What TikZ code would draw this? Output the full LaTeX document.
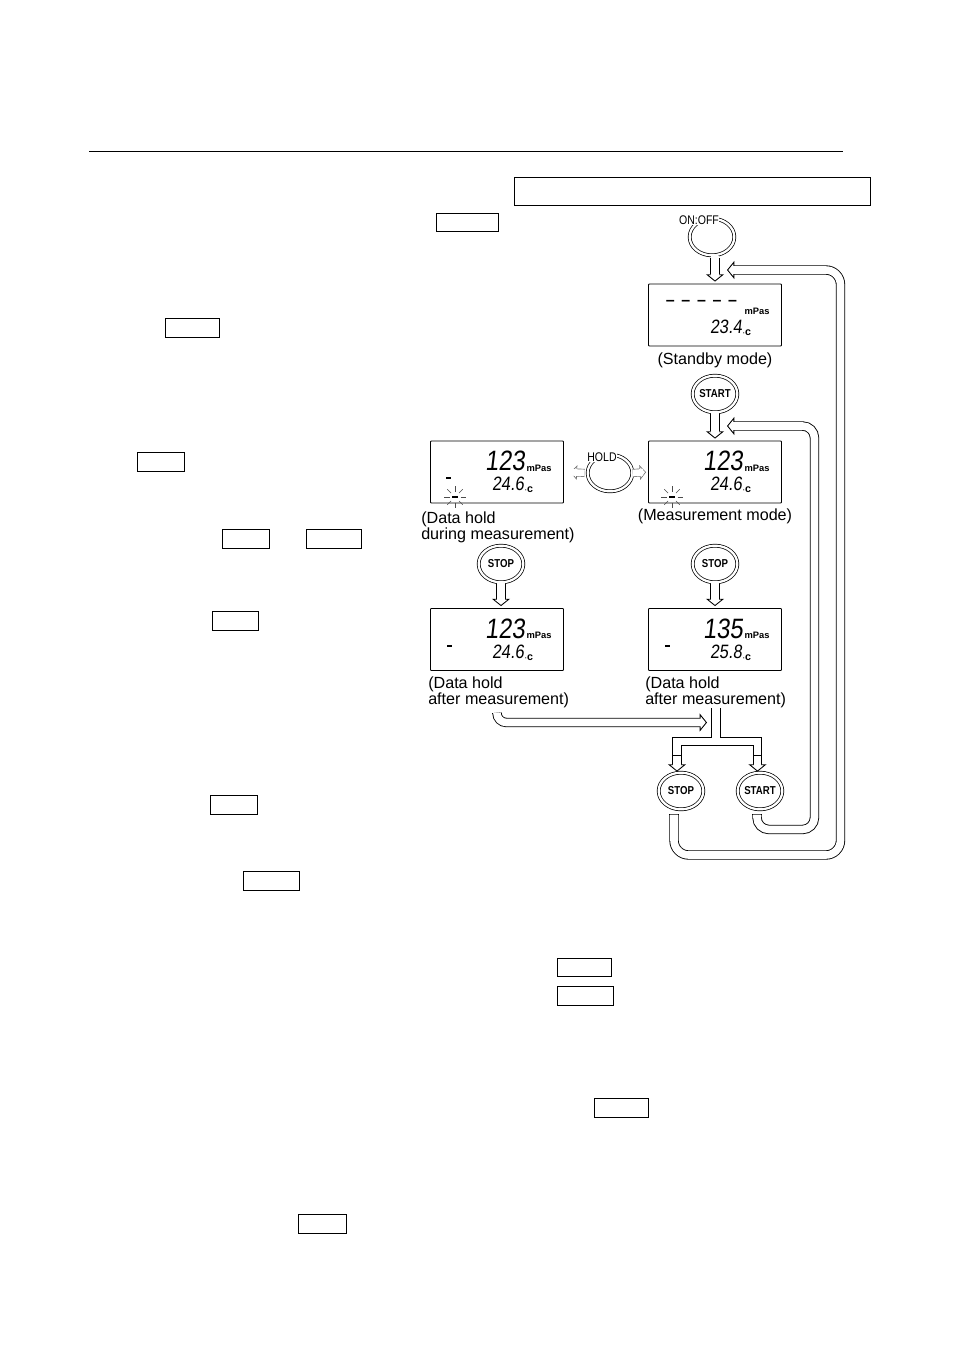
\documentclass[tikz,border=0pt]{standalone}
\usepackage{fontspec}
\setmainfont{Liberation Sans}
\newfontfamily\lcdfont[FakeSlant=.12,FakeStretch=.85]{Liberation Sans}
\newfontfamily\tallfont[FakeStretch=.84]{Liberation Sans}
\usetikzlibrary{calc, arrows.meta, shapes.geometric}
\def\nudge{.65pt}
\tikzset{rule/.style={line width=.7pt}}
\tikzset{keybox/.style={draw, line width=.6pt, inner sep=0pt}}
\tikzset{lcd/.style={draw, line width=.6pt, rounded corners=.6pt, minimum width=99.8pt, minimum height=46.5pt, inner sep=0pt}}
\tikzset{btn/.style={ellipse, draw, double, double distance=1.7pt, line width=.55pt, minimum width=33.5pt, minimum height=27.5pt, inner sep=0pt, font=\fontsize{8.6}{9}\selectfont\tallfont\bfseries}}
\tikzset{ringname/.style={fill=white, inner sep=.4pt, font=\fontsize{9.4}{9}\selectfont\tallfont}}
\tikzset{caption/.style={inner sep=0pt, align=left, font=\fontsize{12.1}{12}\selectfont}}
\tikzset{bigread/.style={inner sep=0pt, font=\fontsize{21}{21}\selectfont\lcdfont}}
\tikzset{tempread/.style={inner sep=0pt, font=\fontsize{14.5}{15}\selectfont\lcdfont}}
\tikzset{unitname/.style={inner sep=0pt, font=\fontsize{7}{7}\selectfont\bfseries}}
\tikzset{flow/.style={line width=7pt, postaction={draw=white, -, line width=7pt-2*\nudge, shorten >=#1, shorten <=.5pt}}, flow/.default=4.6pt}
\tikzset{flowboth/.style={flow, {Bar[width=7pt, line width=\nudge]}-{Triangle[fill=white, length=5.5pt, width=13.5pt, line width=\nudge]}}}
\tikzset{flowhead/.style={flow, -{Triangle[fill=white, length=5.5pt, width=13.5pt, line width=\nudge]}}}
\tikzset{flowtail/.style={flow=0pt, {Bar[width=7pt, line width=\nudge]}-}}
\tikzset{holdflow/.style={draw=black!55, line width=6pt, postaction={draw=white, -, line width=6pt-1pt, shorten >=3.8pt}, -{Triangle[fill=white, length=4.8pt, width=11pt, line width=.5pt]}}}
\begin{document}
\begin{tikzpicture}[x=.75pt, y=-.75pt]
  \useasboundingbox (0,0) rectangle (954,1350);
  \draw[rule] (89,151) -- (843,151);
  % Key frames in the running text
  \foreach \keyname/\keypos/\keyw/\keyh in {
    keytitle/{(692.5,191.5)}/357/29,
    keyonoff/{(467.5,222.5)}/63/19,
    keya/{(192.5,328)}/55/20,
    keyb/{(161,462)}/48/20,
    keyc/{(246,539)}/48/20,
    keyd/{(334,539)}/56/20,
    keye/{(235.5,621)}/47/20,
    keyf/{(234,805)}/48/20,
    keyg/{(271.5,881)}/57/20,
    keyh/{(584.5,967.5)}/55/19,
    keyi/{(585.5,996)}/57/20,
    keyj/{(621.5,1108)}/55/20,
    keyk/{(322.5,1224)}/49/20%
  } {
    \node[keybox, minimum width=\keyw*.75pt-.6pt, minimum height=\keyh*.75pt-.6pt] (\keyname) at \keypos {};
  }
  % Displays
  \foreach \lcdname/\lcdpos/\reading/\temp in {
    standby/{(715,315)}/{}/23.4,
    measure/{(715,472)}/123/24.6,
    holddur/{(497,472)}/123/24.6,
    holdaft/{(497,639.5)}/123/24.6,
    holdend/{(715,639.5)}/135/25.8%
  } {
    \node[lcd] (\lcdname) at \lcdpos {};
    \node[bigread] (\lcdname big) at ($(\lcdname.center)+(8,-11)$) {\reading};
    \node[tempread] (\lcdname temp) at ($(\lcdname.center)+(11,12)$) {\temp};
    \node[unitname] (\lcdname unit) at ($(\lcdname.center)+(42,-4)$) {mPas};
    \node[unitname, font=\fontsize{8}{8}\selectfont\bfseries] (\lcdname deg) at ($(\lcdname.center)+(32,18)$) {{\fontsize{5}{5}\selectfont ·}c};
  }
  \node[inner sep=0pt, font=\fontsize{12}{12}\selectfont\bfseries] (standbydash) at (701.5,303) {–\hspace{5pt}–\hspace{5pt}–\hspace{5pt}–\hspace{5pt}–};
  % Hold marks
  \foreach \mark in {(448,478),(449,646),(667,646)} {
    \fill \mark ++(-2.5,-.8) rectangle ++(5,1.6);
  }
  \foreach \blink in {(672,497),(455,497)} {
    \fill \blink ++(-3,-.8) rectangle ++(6,1.6);
    \foreach \ang in {0,45,90,135,180,225,270,315} {
      \draw[black!70, line width=.3pt] \blink ++(\ang:5.5) -- ++(\ang:5.5);
    }
  }
  % Captions
  \node[caption] (standbycap) at (715,360) {(Standby mode)};
  \node[caption] (measurecap) at (715,516) {(Measurement mode)};
  \node[caption, anchor=west] (holddurcap) at (421,527) {(Data hold\\during measurement)};
  \node[caption, anchor=west] (holdaftcap) at (428,692) {(Data hold\\after measurement)};
  \node[caption, anchor=west] (holdendcap) at (645,692) {(Data hold\\after measurement)};
  % Buttons
  \node[btn] (onoff) at (712,237) {};
  \node[ringname] (onoffname) at (699,220) {ON:OFF};
  \node[btn] (hold) at (610,473) {};
  \node[ringname] (holdname) at (602,457) {HOLD};
  \node[btn] (start) at (715,394) {START};
  \node[btn] (stopdur) at (501,564) {STOP};
  \node[btn] (stopmeas) at (715,564) {STOP};
  \node[btn] (stopend) at (681,791) {STOP};
  \node[btn] (startend) at (760,791) {START};
  % Straight arrows
  \draw[flowboth, shorten >=1.5pt, shorten <=2pt] (onoff.south -| standby.north) -- (standby.north);
  \draw[flowboth, shorten >=1.5pt, shorten <=1pt] (start.south) -- (measure.north);
  \draw[flowboth, shorten >=1.5pt, shorten <=1pt] (stopdur.south) -- (stopdur.south |- holdaft.north);
  \draw[flowboth, shorten >=1.5pt, shorten <=1pt] (stopmeas.south) -- (holdend.north);
  \draw[holdflow, shorten >=5pt, shorten <=2pt] (hold.west) -- (holddur.east);
  \draw[holdflow, shorten >=1.5pt] (hold.east) -- (measure.west);
  % Return loops
  \coordinate (standbyin) at (727,270);
  \coordinate (measurein) at (727,426);
  \coordinate (stopout) at (674,814);
  \coordinate (startout) at (757,814);
  \draw[flowboth, rounded corners=11pt] (stopout) |- (840.5,855) |- (standbyin);
  \draw[flowboth, rounded corners=9pt] (startout) |- (814.5,829.5) |- (measurein);
  % Leaving the data hold displays
  \coordinate (holdaftout) at (497,713);
  \coordinate (holdendin) at (707,722.5);
  \draw[flowboth, rounded corners=7pt] (holdaftout) |- (holdendin);
  \coordinate (forkin) at (716,708);
  \coordinate (forkmid) at (716,741.5);
  \coordinate (forkl) at (677,755);
  \coordinate (forkr) at (757.5,755);
  \draw[flowtail] (forkin) -- (forkmid) -| (forkl) (forkmid) -| (forkr);
  \draw[flowhead, shorten >=.5pt] (forkl) -- (forkl |- stopend.north);
  \draw[flowhead, shorten >=.5pt] (forkr) -- (forkr |- startend.north);
\end{tikzpicture}
\end{document}
